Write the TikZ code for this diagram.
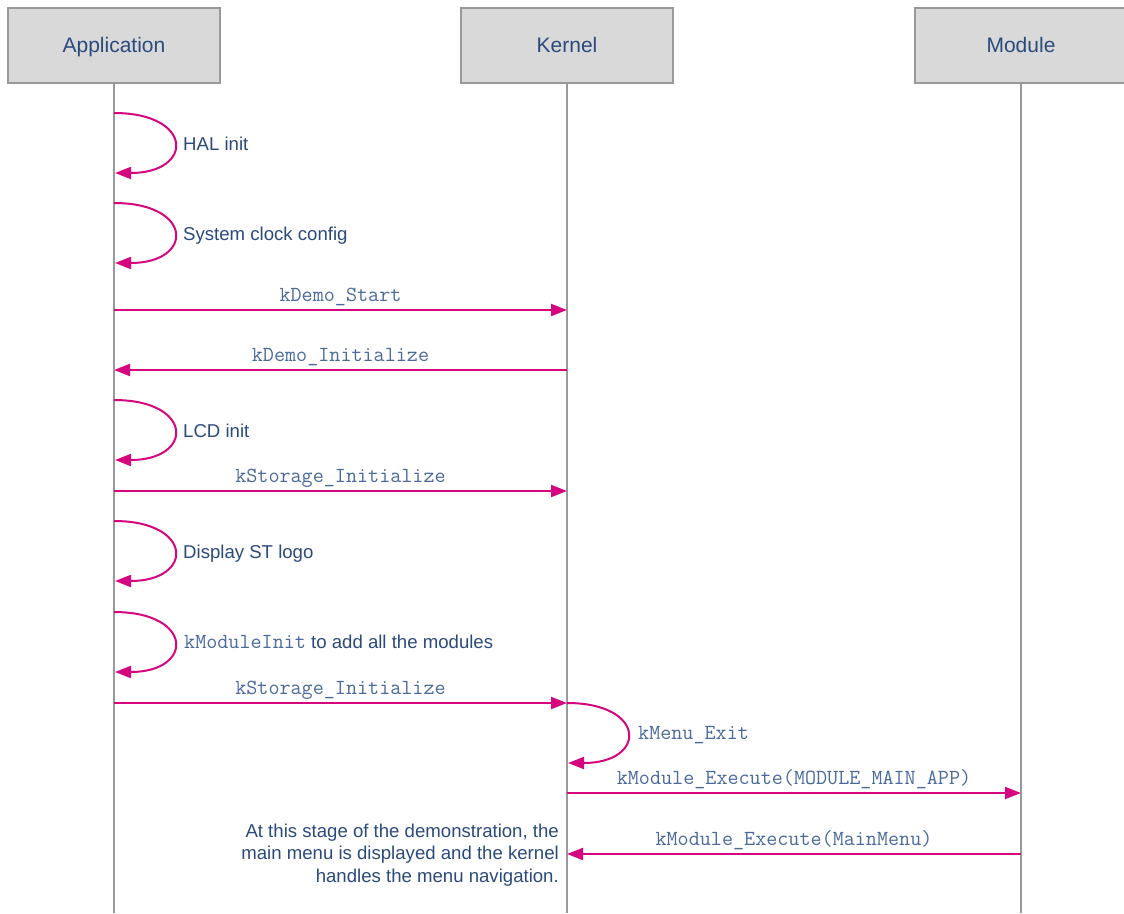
\documentclass[tikz,border=0pt]{standalone}
\usepackage{fontspec}
\setmainfont{Liberation Sans}
\usetikzlibrary{arrows.meta}
\definecolor{txtblue}{HTML}{2B4A7C}
\definecolor{monoblue}{HTML}{4A6A9C}
\definecolor{mag}{HTML}{D6067F}
\definecolor{boxgray}{HTML}{D9D9D9}
\definecolor{linegray}{HTML}{999999}
\newcommand{\monofnt}{\ttfamily\fontsize{21.5}{24}\selectfont}
\tikzset{
  header/.style={draw=linegray, line width=1.2pt, fill=boxgray, minimum width=212pt, minimum height=75pt, inner sep=0pt, text height=17pt, text depth=4pt, text=txtblue, font=\fontsize{21}{24}\selectfont},
  lifeline/.style={draw=linegray, line width=1.3pt},
  msg/.style={draw=mag, line width=2pt, -{Triangle[length=16pt,width=12pt]}},
  monolbl/.style={text=monoblue, font=\monofnt, inner sep=0pt},
  txtlbl/.style={text=txtblue, font=\fontsize{18.6}{22.5}\selectfont, inner sep=0pt},
}
\begin{document}
\begin{tikzpicture}[x=1pt,y=-1pt]
\useasboundingbox (0,0) rectangle (1124,913);
\fill[white] (0,0) rectangle (1124,913);
% headers
\node[header] (app) at (114,45.5) {Application};
\node[header] (ker) at (567,45.5) {Kernel};
\node[header] (mod) at (1021,45.5) {Module};
\coordinate (appE) at (114,913);
\coordinate (kerE) at (567,913);
\coordinate (modE) at (1021,913);
\draw[lifeline] (app.south) -- (appE);
\draw[lifeline] (ker.south) -- (kerE);
\draw[lifeline] (mod.south) -- (modE);
% self loops on application
\foreach \n/\ya in {l1/113, l2/203, l3/400, l4/521, l5/612}{
  \coordinate (\n s) at (114,\ya);
  \coordinate (\n e) at (115,\ya+60);
  \draw[msg] (\n s) .. controls (194,\ya) and (194,\ya+60) .. (\n e);
}
\node[txtlbl, anchor=base west] (t1) at (183,150) {HAL init};
\node[txtlbl, anchor=base west] (t2) at (183,240) {System clock config};
\node[txtlbl, anchor=base west] (t3) at (183,437) {LCD init};
\node[txtlbl, anchor=base west] (t4) at (183,558) {Display ST logo};
\node[txtlbl, anchor=base west] (t5) at (184,648) {\textcolor{monoblue}{\monofnt kModuleInit} to add all the modules};
% kernel self loop
\coordinate (k6s) at (567,703);
\coordinate (k6e) at (568,763);
\draw[msg] (k6s) .. controls (647,703) and (647,763) .. (k6e);
\node[monolbl, anchor=base west] (t6) at (638,739) {kMenu\_Exit};
% messages
\coordinate (a1) at (114,310); \coordinate (k1) at (567,310);
\draw[msg] (a1) -- node[monolbl, pos=0.5, anchor=base, yshift=9pt] {kDemo\_Start} (k1);
\coordinate (k2) at (567,370); \coordinate (a2) at (114,370);
\draw[msg] (k2) -- node[monolbl, pos=0.5, anchor=base, yshift=9pt] {kDemo\_Initialize} (a2);
\coordinate (a3) at (114,491); \coordinate (k3) at (567,491);
\draw[msg] (a3) -- node[monolbl, pos=0.5, anchor=base, yshift=9pt] {kStorage\_Initialize} (k3);
\coordinate (a4) at (114,703); \coordinate (k4) at (567,703);
\draw[msg] (a4) -- node[monolbl, pos=0.5, anchor=base, yshift=9pt] {kStorage\_Initialize} (k4);
\coordinate (k5) at (567,793); \coordinate (m5) at (1021,793);
\draw[msg] (k5) -- node[monolbl, pos=0.5, anchor=base, yshift=9pt] {kModule\_Execute(MODULE\_MAIN\_APP)} (m5);
\coordinate (m6) at (1021,854); \coordinate (k7) at (567,854);
\draw[msg] (m6) -- node[monolbl, pos=0.5, anchor=base, yshift=9pt] {kModule\_Execute(MainMenu)} (k7);
% note
\node[txtlbl, anchor=east, align=right] (note) at (559,855) {At this stage of the demonstration, the\\main menu is displayed and the kernel\\handles the menu navigation.};
\end{tikzpicture}
\end{document}
